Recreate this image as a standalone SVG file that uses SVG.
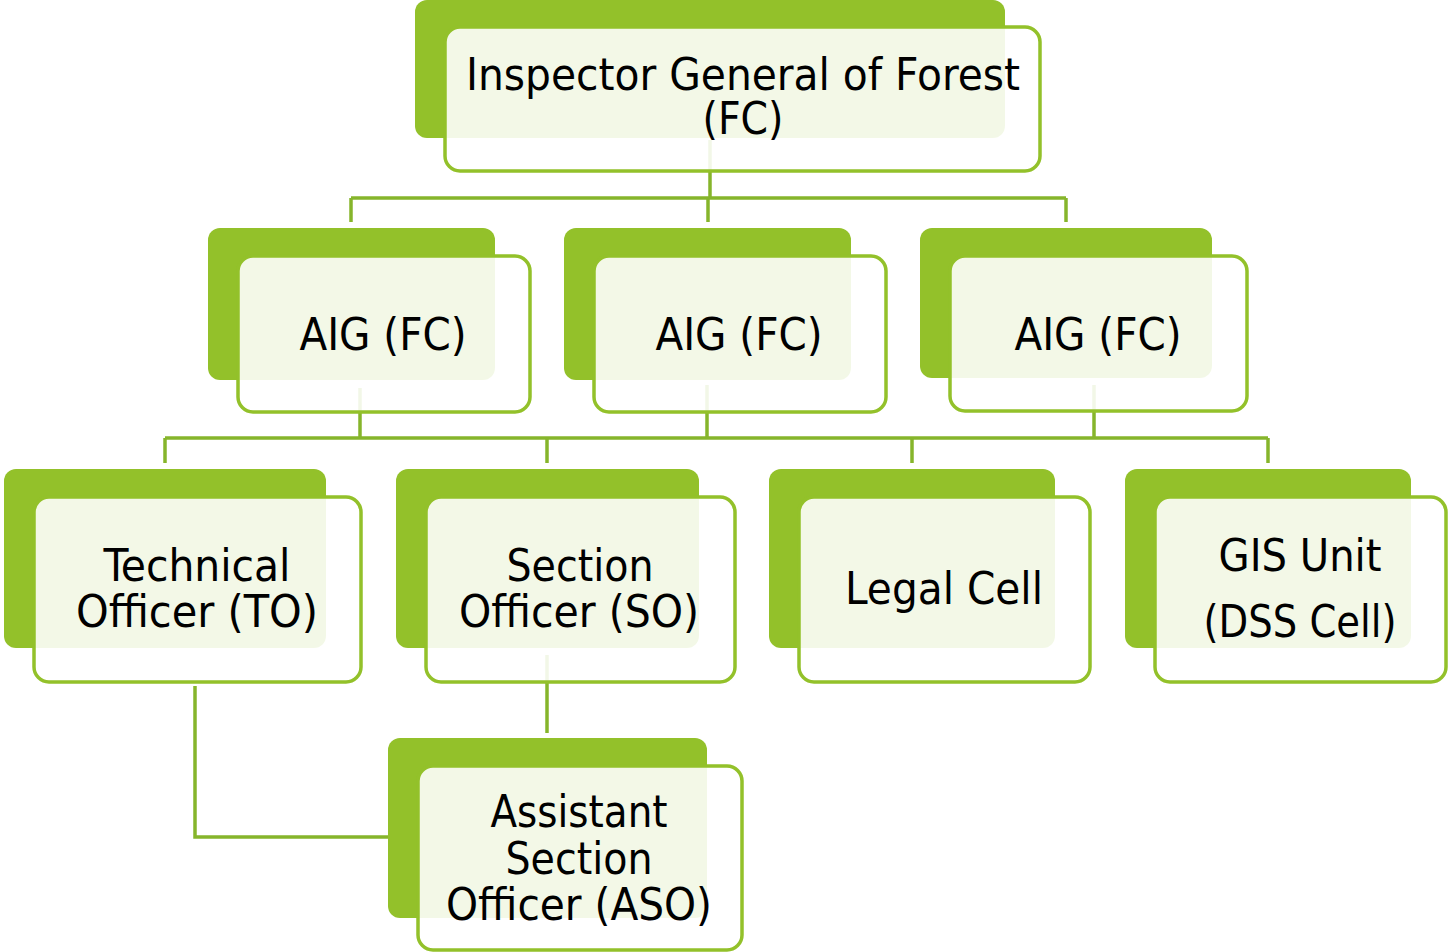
<svg xmlns="http://www.w3.org/2000/svg" width="1450" height="952" viewBox="0 0 1450 952">
<style>
.back{fill:#93C12A}
.front{fill:#ffffff;fill-opacity:0.89;stroke:#93C12A;stroke-width:3.5}
.conn{fill:none;stroke:#86B52B;stroke-width:3.5}
text{font-family:"DejaVu Sans Condensed","DejaVu Sans",sans-serif;font-size:45px;fill:#000;text-anchor:middle}
</style>
<rect width="1450" height="952" fill="#ffffff"/>
<g id="backs">
<rect class="back" x="415" y="0" width="590" height="138" rx="12"/>
<rect class="back" x="208" y="228" width="287" height="152" rx="12"/>
<rect class="back" x="564" y="228" width="287" height="152" rx="12"/>
<rect class="back" x="920" y="228" width="292" height="150" rx="12"/>
<rect class="back" x="4" y="469" width="322" height="179" rx="12"/>
<rect class="back" x="396" y="469" width="303" height="179" rx="12"/>
<rect class="back" x="769" y="469" width="286" height="179" rx="12"/>
<rect class="back" x="1125" y="469" width="286" height="179" rx="12"/>
<rect class="back" x="388" y="738" width="319" height="180" rx="12"/>
</g>
<g id="connectors">
<path class="conn" d="M710,140 V198 M351,198 H1066 M351,198 V222 M708,198 V222 M1066,198 V222"/>
<path class="conn" d="M360,388 V438 M707,385 V438 M1094,385 V438 M165,438 H1268 M165,438 V463 M547,438 V463 M912,438 V463 M1268,438 V463"/>
<path class="conn" d="M547,655 V733"/>
<path class="conn" d="M195,686 V837 H388"/>
</g>
<g id="n-igf">
<rect class="front" x="445" y="27" width="595" height="144" rx="15"/>
<text x="743" y="90" textLength="554" lengthAdjust="spacingAndGlyphs">Inspector General of Forest</text>
<text x="743" y="134" textLength="81" lengthAdjust="spacingAndGlyphs">(FC)</text>
</g>
<g id="n-aig1">
<rect class="front" x="238" y="256" width="292" height="156" rx="15"/>
<text x="383" y="350" textLength="167" lengthAdjust="spacingAndGlyphs">AIG (FC)</text>
</g>
<g id="n-aig2">
<rect class="front" x="594" y="256" width="292" height="156" rx="15"/>
<text x="739" y="350" textLength="167" lengthAdjust="spacingAndGlyphs">AIG (FC)</text>
</g>
<g id="n-aig3">
<rect class="front" x="950" y="256" width="297" height="155" rx="15"/>
<text x="1098" y="350" textLength="167" lengthAdjust="spacingAndGlyphs">AIG (FC)</text>
</g>
<g id="n-to">
<rect class="front" x="34" y="497" width="327" height="185" rx="15"/>
<text x="197" y="581" textLength="187" lengthAdjust="spacingAndGlyphs">Technical</text>
<text x="197" y="627" textLength="242" lengthAdjust="spacingAndGlyphs">Officer (TO)</text>
</g>
<g id="n-so">
<rect class="front" x="426" y="497" width="309" height="185" rx="15"/>
<text x="580" y="581" textLength="147" lengthAdjust="spacingAndGlyphs">Section</text>
<text x="579" y="627" textLength="240" lengthAdjust="spacingAndGlyphs">Officer (SO)</text>
</g>
<g id="n-legal">
<rect class="front" x="799" y="497" width="291" height="185" rx="15"/>
<text x="944" y="604" textLength="198" lengthAdjust="spacingAndGlyphs">Legal Cell</text>
</g>
<g id="n-gis">
<rect class="front" x="1155" y="497" width="291" height="185" rx="15"/>
<text x="1300" y="571" textLength="163" lengthAdjust="spacingAndGlyphs">GIS Unit</text>
<text x="1300" y="637" textLength="193" lengthAdjust="spacingAndGlyphs">(DSS Cell)</text>
</g>
<g id="n-aso">
<rect class="front" x="418" y="766" width="324" height="184" rx="15"/>
<text x="579" y="827" textLength="177" lengthAdjust="spacingAndGlyphs">Assistant</text>
<text x="579" y="874" textLength="147" lengthAdjust="spacingAndGlyphs">Section</text>
<text x="579" y="920" textLength="266" lengthAdjust="spacingAndGlyphs">Officer (ASO)</text>
</g>
</svg>
